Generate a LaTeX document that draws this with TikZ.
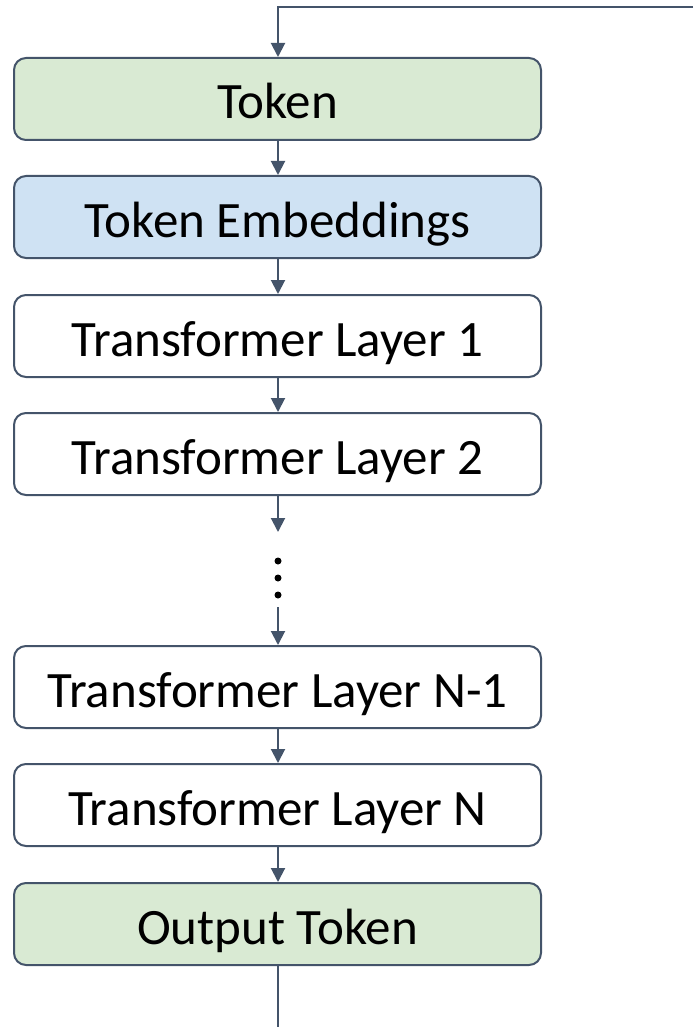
\documentclass[tikz,border=0pt]{standalone}
\usepackage{fontspec}
\setmainfont{Carlito}
\usetikzlibrary{arrows.meta}
\definecolor{edge}{HTML}{44546A}
\definecolor{tokgreen}{HTML}{D9EAD3}
\definecolor{embblue}{HTML}{CFE2F3}
\tikzset{
  block/.style={draw=edge, line width=2pt, rounded corners=12pt, fill=white,
    minimum width=527pt, minimum height=82pt, inner sep=0pt,
    text height=40pt, text depth=0pt,
    font=\fontsize{51}{57}\selectfont, text=black},
  flow/.style={draw=edge, line width=2pt, -{Triangle[length=14pt,width=14pt]}},
  plain/.style={draw=edge, line width=2pt},
  dot/.style={circle, fill=black, minimum size=7pt, inner sep=0pt}
}
\begin{document}
\begin{tikzpicture}[x=1pt,y=-1pt]
  \useasboundingbox (0,0) rectangle (693,1027);

  % stack of processing blocks
  \node[block, fill=tokgreen] (tok)  at (277.5,99)  {Token};
  \node[block, fill=embblue]  (emb)  at (277.5,217) {Token Embeddings};
  \node[block] (l1)   at (277.5,336) {Transformer Layer 1};
  \node[block] (l2)   at (277.5,454) {Transformer Layer 2};
  \node[block] (lnm)  at (277.5,687) {Transformer Layer N-1};
  \node[block] (ln)   at (277.5,805) {Transformer Layer N};
  \node[block, fill=tokgreen] (out)  at (277.5,924) {Output Token};

  % vertical ellipsis between layer 2 and layer N-1
  \node[dot] (d1) at (278,561) {};
  \node[dot] (d2) at (278,578) {};
  \node[dot] (d3) at (278,595) {};
  \coordinate (gapin)  at (278,532);
  \coordinate (gapout) at (278,607);

  % feedback loop entering at the top and leaving at the bottom
  \coordinate (loopend) at (693,7);
  \coordinate (loopcorner) at (278,7);
  \coordinate (tail) at (278,1027);

  \draw[flow] (loopend) -- (loopcorner) -- (tok.north -| loopcorner);
  \draw[flow] (tok.south -| loopcorner) -- (emb.north -| loopcorner);
  \draw[flow] (emb.south -| loopcorner) -- (l1.north -| loopcorner);
  \draw[flow] (l1.south -| loopcorner) -- (l2.north -| loopcorner);
  \draw[flow] (l2.south -| loopcorner) -- (gapin);
  \draw[flow] (gapout) -- (lnm.north -| loopcorner);
  \draw[flow] (lnm.south -| loopcorner) -- (ln.north -| loopcorner);
  \draw[flow] (ln.south -| loopcorner) -- (out.north -| loopcorner);
  \draw[plain] (out.south -| loopcorner) -- (tail);
\end{tikzpicture}
\end{document}
